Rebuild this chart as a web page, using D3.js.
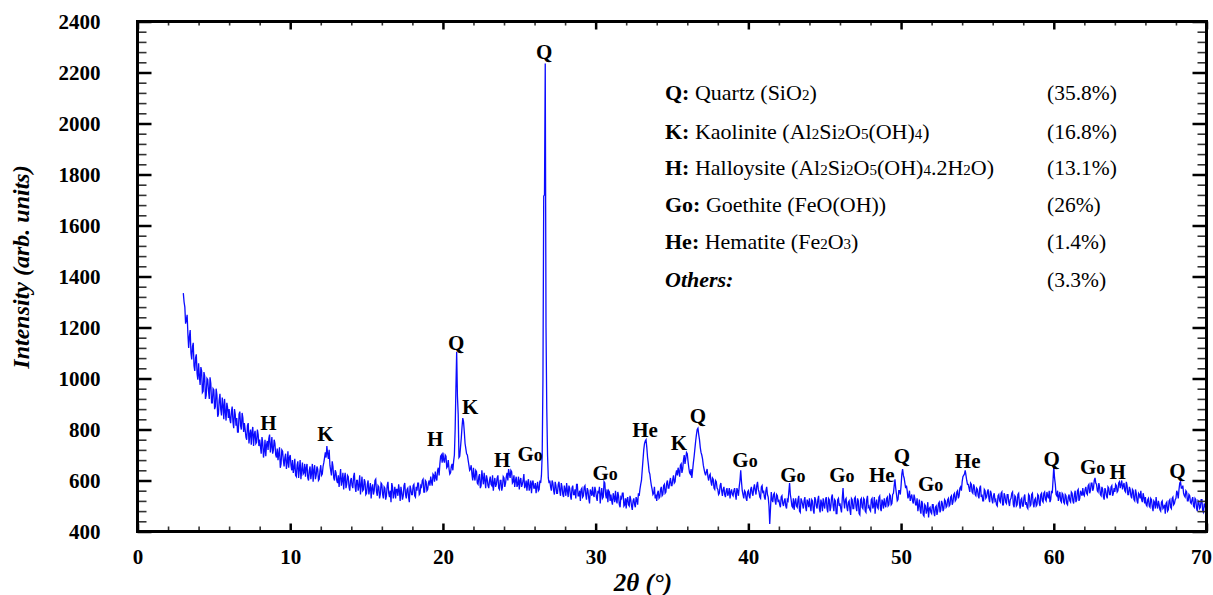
<!DOCTYPE html>
<html><head><meta charset="utf-8">
<script src="https://cdn.jsdelivr.net/npm/d3@7"></script>
<style>
html,body{margin:0;padding:0;background:#fff;}
svg{display:block;}
</style></head>
<body>
<svg id="chart" width="1213" height="595"></svg>
<script>
// ---------------- DATA ----------------
// 2θ sampling: 3.0° to 70.0°, step 0.1° (whole tenths) plus the half-step readings in between
const thetaStart = 3.0;
const thetaStep = 0.1;
// Intensity (arb. units) at 3.0, 3.1, ... 70.0 — one row per degree (k.0 ... k.9)
const intensity = [
1335,1280,1230,1175,1165,1100,1125,1050,1080,1020, // 3
1060,975,1030,950,1010,935,995,920,980,905,        // 4
955,890,935,860,940,855,895,920,835,885,           // 5
880,825,890,805,860,845,790,870,800,845,           // 6
825,770,815,745,800,790,735,795,750,780,           // 7
760,705,750,715,695,755,765,710,770,720,           // 8
745,690,680,730,665,715,655,705,670,650,           // 9
700,640,630,685,615,675,645,605,670,630,           // 10
615,665,600,655,630,595,660,620,645,605,           // 11
660,625,670,710,735,685,660,620,655,600,           // 12
630,590,575,645,600,565,630,585,615,560,           // 13
610,570,630,555,600,580,545,615,565,595,           // 14
550,600,565,530,585,560,605,540,575,545,           // 15
585,530,570,540,595,535,515,575,550,530,           // 16
565,585,520,555,540,590,530,570,515,565,           // 17
545,585,535,560,590,550,575,605,555,595,           // 18
565,600,615,580,620,635,600,650,665,700,           // 19
710,670,695,655,645,630,665,675,800,1105,          // 20
860,695,765,845,790,725,700,660,645,625,           // 21
650,600,635,585,625,580,610,630,570,605,           // 22
570,615,580,560,610,585,620,565,600,575,           // 23
610,590,630,645,610,635,595,575,615,585,           // 24
565,610,585,625,580,560,605,575,550,600,           // 25
570,550,595,565,590,700,1715,2235,880,610,         // 26
600,560,590,545,580,550,595,540,575,535,           // 27
565,590,535,570,525,580,545,530,585,540,           // 28
520,570,540,580,525,560,510,555,575,535,           // 29
560,520,550,510,570,535,590,530,515,555,           // 30
545,505,535,560,510,540,495,530,550,505,           // 31
490,535,500,525,485,530,495,525,550,565,           // 32
600,680,745,760,690,635,600,565,550,530,           // 33
520,560,535,575,545,585,555,600,570,610,           // 34
580,620,595,640,650,615,665,645,700,685,           // 35
705,650,625,610,670,725,780,805,760,710,           // 36
685,645,620,645,600,625,580,605,565,595,           // 37
565,550,590,540,575,535,570,550,530,565,           // 38
540,570,525,560,575,640,560,530,555,520,           // 39
560,530,575,540,585,545,595,555,530,580,           // 40
560,525,575,535,430,555,515,550,505,540,           // 41
525,495,540,500,530,490,520,590,525,495,           // 42
485,530,495,540,475,520,490,535,480,515,           // 43
530,480,520,470,525,490,540,475,510,530,           // 44
490,535,475,525,495,545,480,520,470,530,           // 45
510,475,570,490,530,480,520,465,525,490,           // 46
535,480,520,465,530,490,525,475,540,500,           // 47
480,530,500,470,525,490,540,480,515,530,           // 48
495,535,505,540,510,550,605,545,525,560,           // 49
580,645,610,570,560,540,520,545,510,530,           // 50
505,480,525,470,510,460,500,485,455,495,           // 51
470,505,460,500,480,515,485,510,490,520,           // 52
500,530,505,540,515,550,525,560,540,575,           // 53
595,620,640,600,585,555,585,550,575,540,           // 54
565,530,580,545,520,560,535,565,515,550,           // 55
510,550,525,500,545,515,555,505,540,510,           // 56
545,500,530,555,495,535,505,550,490,530,           // 57
500,545,515,490,540,505,550,495,530,505,           // 58
540,500,550,515,555,520,540,560,525,550,           // 59
655,585,540,520,555,515,545,510,540,505,           // 60
545,515,550,510,560,525,565,530,550,570,           // 61
540,575,545,585,560,590,570,610,585,555,           // 62
575,540,565,525,560,530,570,545,580,550,           // 63
555,580,560,595,585,565,590,555,580,545,           // 64
565,530,560,520,550,510,545,560,515,535,           // 65
535,500,530,495,525,480,515,535,490,505,           // 66
480,520,495,470,515,485,525,490,535,510,           // 67
530,550,565,595,570,550,535,555,520,540,           // 68
510,535,495,525,480,515,495,525,475,500,           // 69
480                                                // 70
];
// Intensity at the half steps 3.05, 3.15, ... 69.95 — one row per degree
const intensityMid = [
1300,1215,1250,1120,1190,1075,1140,1030,1095,995,  // 3
1010,1045,945,1025,920,1000,950,1005,905,960,      // 4
880,960,850,915,880,925,840,870,905,845,           // 5
840,870,830,880,815,790,860,815,865,790,           // 6
800,760,825,780,740,810,780,745,800,735,           // 7
735,770,690,760,740,720,780,735,705,760,           // 8
700,725,705,650,720,680,690,645,715,690,           // 9
660,680,650,620,660,610,680,640,625,665,           // 10
650,610,640,605,665,640,605,655,600,640,           // 11
620,655,690,690,705,720,640,675,610,640,           // 12
600,620,610,580,630,610,570,620,575,600,           // 13
580,615,575,600,560,620,580,560,605,545,           // 14
585,545,590,570,545,600,555,580,530,590,           // 15
545,575,525,580,550,560,590,530,575,565,           // 16
540,560,575,525,580,545,565,535,580,545,           // 17
580,540,575,590,545,580,600,555,600,560,           // 18
590,580,595,625,595,610,640,620,695,670,           // 19
680,700,650,680,625,655,640,700,960,930,           // 20
690,730,810,830,745,705,680,640,660,600,           // 21
615,640,590,615,570,640,585,600,620,580,           // 22
600,585,620,590,575,610,570,600,560,615,           // 23
575,615,600,625,640,590,620,600,575,615,           // 24
600,575,600,570,600,590,560,600,590,570,           // 25
590,575,560,600,620,1000,1720,1200,700,590,        // 26
575,600,560,595,550,585,560,590,545,580,           // 27
540,560,580,540,570,545,565,585,540,560,           // 28
565,535,575,545,570,530,565,540,545,575,           // 29
535,560,575,545,530,595,545,565,560,520,           // 30
520,550,515,525,555,505,535,550,500,530,           // 31
525,505,540,500,520,505,535,505,540,585,           // 32
640,720,755,730,665,625,580,545,575,545,           // 33
550,530,565,540,580,550,590,570,595,580,           // 34
605,590,625,620,635,660,630,680,665,710,           // 35
675,630,645,640,695,755,800,780,730,700,           // 36
660,630,635,615,620,595,610,570,600,570,           // 37
545,580,560,565,545,560,540,570,555,545,           // 38
560,545,570,540,600,595,545,560,530,555,           // 39
540,565,550,570,560,580,565,535,575,550,           // 40
535,560,545,500,490,525,545,520,545,515,           // 41
505,535,510,520,500,525,555,545,500,530,           // 42
515,500,525,480,530,505,520,495,525,495,           // 43
500,525,485,535,500,525,490,525,480,505,           // 44
525,490,530,480,535,500,525,470,525,500,           // 45
490,530,520,525,495,515,485,530,490,530,           // 46
495,530,470,525,495,530,480,525,495,485,           // 47
525,490,535,510,495,535,490,525,490,505,           // 48
530,500,545,505,545,580,570,520,560,545,           // 49
625,620,590,580,530,560,535,520,545,505,           // 50
530,500,485,520,465,505,470,515,490,475,           // 51
505,475,495,465,510,475,520,480,525,495,           // 52
525,500,535,505,545,520,555,530,570,560,           // 53
615,625,620,585,570,590,555,585,545,570,           // 54
540,570,535,520,565,530,555,530,560,525,           // 55
540,520,505,540,520,550,505,550,515,545,           // 56
515,525,550,505,540,500,545,510,525,500,           // 57
535,505,495,545,500,545,510,525,500,545,           // 58
510,545,520,550,525,555,530,515,560,600,           // 59
610,545,560,540,520,550,515,545,510,535,           // 60
520,555,520,545,515,560,520,560,540,545,           // 61
565,550,580,550,590,560,600,590,560,590,           // 62
545,575,535,570,540,575,545,575,540,570,           // 63
585,555,590,570,600,580,560,595,545,575,           // 64
540,565,525,565,520,550,530,525,550,510,           // 65
505,525,500,530,495,520,490,505,520,485,           // 66
515,490,505,510,480,520,495,530,505,525,           // 67
560,530,590,570,580,540,560,520,545,515,           // 68
525,500,530,490,520,490,525,480,510,490            // 69
];

const xTicks = [0, 10, 20, 30, 40, 50, 60, 70];
const yTicks = [400, 600, 800, 1000, 1200, 1400, 1600, 1800, 2000, 2200, 2400];

// Peak labels: text, 2θ position, intensity position (label centre)
const peakText = ["H","K","H","Q","K","H","Go","Q","Go","He","K","Q","Go","Go","Go","He","Q","Go","He","Q","Go","H","Q"];
const peakTheta = [8.57,12.3,19.5,20.87,21.78,23.88,25.71,26.63,30.62,33.23,35.46,36.70,39.78,42.92,46.12,48.74,50.05,51.94,54.36,59.86,62.54,64.18,68.10];
const peakInt = [827,784,764,1140,889,682,705,2283,631,799,748,854,682,623,623,623,697,588,678,686,654,635,639];

// Legend
const legendKey = ["Q:", "K:", "H:", "Go:", "He:", "Others:"];
const legendName = ["Quartz (SiO_2)", "Kaolinite (Al_2Si_2O_5(OH)_4)", "Halloysite (Al_2Si_2O_5(OH)_4.2H_2O)", "Goethite (FeO(OH))", "Hematite (Fe_2O_3)", ""];
const legendPct = ["(35.8%)", "(16.8%)", "(13.1%)", "(26%)", "(1.4%)", "(3.3%)"];

// ---------------- CHART ----------------
const svg = d3.select("#chart");
const L = 137.5, R = 1206.5, T = 21.5, B = 531.5;
const x = d3.scaleLinear().domain([0, 70]).range([L, R]);
const y = d3.scaleLinear().domain([400, 2400]).range([B, T]);
const serif = "'Liberation Serif', 'Times New Roman', serif";

const pts = [];
intensity.forEach((v, i) => {
  pts.push([thetaStart + i * thetaStep, v]);
  if (i < intensityMid.length) pts.push([thetaStart + (i + 0.5) * thetaStep, intensityMid[i]]);
});

svg.append("path")
  .datum(pts)
  .attr("fill", "none")
  .attr("stroke", "#0b0bff")
  .attr("stroke-width", 1.3)
  .attr("stroke-linejoin", "miter")
  .attr("d", d3.line().x(d => x(d[0])).y(d => y(d[1])));

function minor(arr, step) {
  const out = [];
  for (let i = 0; i < arr.length - 1; i++)
    for (let k = 1; k < 5; k++) out.push(arr[i] + k * step);
  return out;
}
const xMinor = minor(xTicks, 2);
const yMinor = minor(yTicks, 40);

function styleAxis(g, w, col) {
  g.select(".domain").remove();
  g.selectAll(".tick line").attr("stroke", col || "#000").attr("stroke-width", w);
}

// left
svg.append("g").attr("transform", `translate(${L},0)`)
  .call(d3.axisLeft(y).tickValues(yMinor).tickSize(-9).tickFormat(""))
  .call(g => styleAxis(g, 1.6, "#333"));
svg.append("g").attr("transform", `translate(${L},0)`)
  .call(d3.axisLeft(y).tickValues(yTicks).tickSize(-14).tickPadding(37).tickFormat(d3.format("d")))
  .call(g => styleAxis(g, 2.5))
  .call(g => g.selectAll("text").attr("font-family", serif).attr("font-weight", "bold").attr("font-size", 21).attr("fill", "#000"));
// right
svg.append("g").attr("transform", `translate(${R},0)`)
  .call(d3.axisRight(y).tickValues(yMinor).tickSize(-9).tickFormat(""))
  .call(g => styleAxis(g, 1.6, "#333"));
svg.append("g").attr("transform", `translate(${R},0)`)
  .call(d3.axisRight(y).tickValues(yTicks).tickSize(-14).tickFormat(""))
  .call(g => styleAxis(g, 2.5));
// bottom
svg.append("g").attr("transform", `translate(0,${B})`)
  .call(d3.axisBottom(x).tickValues(xMinor).tickSize(-5).tickFormat(""))
  .call(g => styleAxis(g, 1.6, "#333"));
svg.append("g").attr("transform", `translate(0,${B})`)
  .call(d3.axisBottom(x).tickValues(xTicks).tickSize(-8).tickPadding(18).tickFormat(d3.format("d")))
  .call(g => styleAxis(g, 2.5))
  .call(g => g.selectAll("text").attr("font-family", serif).attr("font-weight", "bold").attr("font-size", 21).attr("fill", "#000"))
  .call(g => g.selectAll("text").filter(d => d === 70).attr("text-anchor", "end").attr("dx", 5));
// top
svg.append("g").attr("transform", `translate(0,${T})`)
  .call(d3.axisTop(x).tickValues(xMinor).tickSize(-4).tickFormat(""))
  .call(g => styleAxis(g, 1.6, "#333"));
svg.append("g").attr("transform", `translate(0,${T})`)
  .call(d3.axisTop(x).tickValues(xTicks).tickSize(-8).tickFormat(""))
  .call(g => styleAxis(g, 2.5));

// frame
svg.append("rect").attr("x", L).attr("y", T).attr("width", R - L).attr("height", B - T)
  .attr("fill", "none").attr("stroke", "#000").attr("stroke-width", 3);

// axis titles
svg.append("text")
  .attr("transform", "translate(29,267) rotate(-90)")
  .attr("text-anchor", "middle")
  .attr("font-family", serif).attr("font-weight", "bold").attr("font-style", "italic")
  .attr("font-size", 24).text("Intensity (arb. units)");
svg.append("text")
  .attr("x", 643).attr("y", 591)
  .attr("text-anchor", "middle")
  .attr("font-family", serif).attr("font-weight", "bold").attr("font-style", "italic")
  .attr("font-size", 25).text("2θ (°)");

// peak labels
peakText.forEach((t, i) => {
  const tx = svg.append("text")
    .attr("x", x(peakTheta[i])).attr("y", y(peakInt[i]))
    .attr("dy", "0.35em")
    .attr("text-anchor", "middle")
    .attr("font-family", serif).attr("font-weight", "bold").attr("font-size", 21).attr("fill", "#000");
  if (t === "Go") {
    tx.append("tspan").text("G");
    tx.append("tspan").attr("font-size", 18).text("o");
  } else {
    tx.text(t);
  }
});

// legend
const legSerif = "'Liberation Serif', 'DejaVu Serif', serif";
const rowY = [100, 139, 175, 212, 249, 287];
legendKey.forEach((k, i) => {
  const t = svg.append("text").attr("x", 665).attr("y", rowY[i])
    .attr("font-family", legSerif).attr("font-size", 22).attr("fill", "#000");
  const ks = t.append("tspan").attr("font-weight", "bold").text(k);
  if (k === "Others:") ks.attr("font-style", "italic");
  const name = legendName[i];
  if (name) {
    t.append("tspan").text(" ");
    name.split(/(_\d)/).forEach(part => {
      if (!part) return;
      if (part[0] === "_") t.append("tspan").attr("font-size", 15).text(part.slice(1));
      else t.append("tspan").text(part);
    });
  }
  svg.append("text").attr("x", 1047).attr("y", rowY[i])
    .attr("font-family", legSerif).attr("font-size", 21.5).attr("fill", "#000")
    .text(legendPct[i]);
});
</script>
</body></html>
